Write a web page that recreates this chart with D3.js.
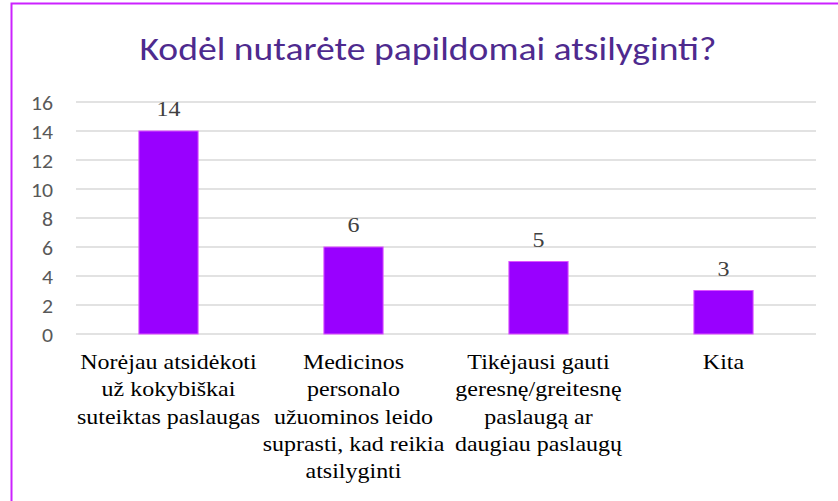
<!DOCTYPE html>
<html><head><meta charset="utf-8">
<script src="https://cdn.jsdelivr.net/npm/d3@7"></script>
<style>body{margin:0;background:#fff}svg{display:block}</style>
</head><body>
<script>
const title = "Kodėl nutarėte papildomai atsilyginti?";
const categories = [
  ["Norėjau atsidėkoti", "už kokybiškai", "suteiktas paslaugas"],
  ["Medicinos", "personalo", "užuominos leido", "suprasti, kad reikia", "atsilyginti"],
  ["Tikėjausi gauti", "geresnę/greitesnę", "paslaugą ar", "daugiau paslaugų"],
  ["Kita"]
];
const values = [14, 6, 5, 3];
const yTicks = [0, 2, 4, 6, 8, 10, 12, 14, 16];

const W = 838, H = 501, SX = 1.09;
const svg = d3.select("body").append("svg").attr("width", W).attr("height", H);
svg.append("rect").attr("width", W).attr("height", H).attr("fill", "#fff");
svg.append("rect").attr("x", 11.5).attr("y", 3.5).attr("width", 840).attr("height", 510)
  .attr("fill", "none").attr("stroke", "#CC22FF").attr("stroke-width", 2);

svg.append("text").attr("x", 428).attr("y", 60).attr("text-anchor", "middle")
  .attr("font-family", "Carlito, 'Liberation Sans', sans-serif").attr("font-size", 33)
  .attr("fill", "#4E2A8E").attr("textLength", 577).attr("lengthAdjust", "spacingAndGlyphs")
  .text(title);

const x = d3.scaleBand().domain(d3.range(values.length)).range([76, 816]).paddingInner(0.68).paddingOuter(0.34);
const y = d3.scaleLinear().domain([0, 16]).range([334, 102]);

const grid = svg.append("g");
grid.selectAll("line").data(yTicks).join("line")
  .attr("x1", 76).attr("x2", 816).attr("y1", d => y(d)).attr("y2", d => y(d))
  .attr("stroke", "#D9D9D9").attr("stroke-width", 1.5);

const yAxis = svg.append("g").attr("transform", "translate(53,0)")
  .call(d3.axisLeft(y).tickValues(yTicks).tickSize(0).tickPadding(0));
yAxis.select(".domain").remove();
yAxis.selectAll(".tick text").attr("x", null).attr("transform", `scale(${SX},1)`)
  .attr("font-family", "Carlito, 'Liberation Sans', sans-serif")
  .attr("font-size", 20).attr("fill", "#595959").attr("dy", "0.35em");

svg.append("g").selectAll("rect").data(values).join("rect")
  .attr("x", (d, i) => x(i)).attr("width", x.bandwidth())
  .attr("y", d => y(d)).attr("height", d => y(0) - y(d))
  .attr("fill", "#9900FF").attr("stroke", "#DD55FF").attr("stroke-width", 1);

svg.append("g").selectAll("text").data(values).join("text")
  .attr("transform", (d, i) => `translate(${x(i) + x.bandwidth() / 2},${y(d) - 15}) scale(${SX},1)`)
  .attr("text-anchor", "middle").attr("font-family", "'Liberation Serif', 'Times New Roman', serif")
  .attr("font-size", 22).attr("fill", "#404040").text(d => d);

const cat = svg.append("g");
categories.forEach((lines, i) => {
  const t = cat.append("text").attr("text-anchor", "middle")
    .attr("transform", `translate(${x(i) + x.bandwidth() / 2},369) scale(${SX},1)`)
    .attr("font-family", "'Liberation Serif', 'Times New Roman', serif")
    .attr("font-size", 22).attr("fill", "#000");
  lines.forEach((ln, j) => {
    t.append("tspan").attr("x", 0).attr("y", j * 27.3).text(ln);
  });
});
</script>
</body></html>
